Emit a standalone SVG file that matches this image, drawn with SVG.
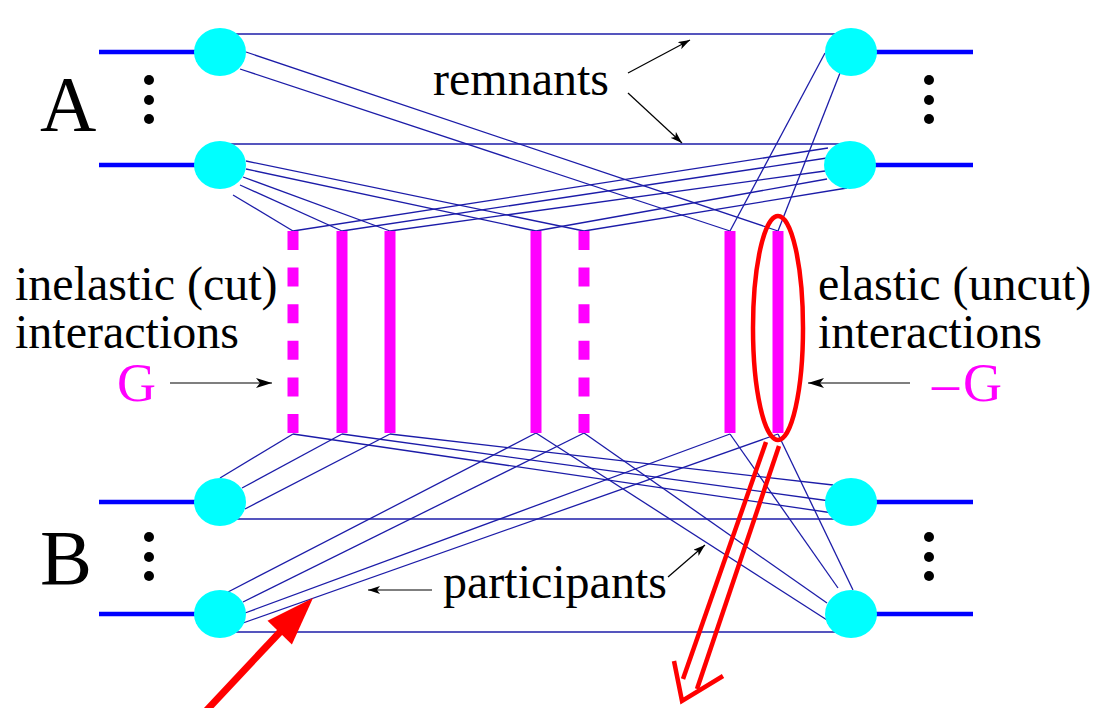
<svg xmlns="http://www.w3.org/2000/svg" width="1101" height="708" viewBox="0 0 1101 708">
  <style>
    .thin { stroke: #1c1ca8; stroke-width: 1.3; fill: none; }
    .thick { stroke: #0000ff; stroke-width: 4.6; fill: none; }
    .node { fill: #00ffff; }
    .bar { fill: #ff00ff; }
    .dot { fill: #000; }
    .lbl { font-family: "Liberation Serif", "Times New Roman", serif; font-size: 48px; fill: #000; }
    .big { font-family: "Liberation Serif", "Times New Roman", serif; font-size: 78px; fill: #000; }
    .mag { fill: #ff00ff; font-size: 54px; }
    .ptr { stroke: #000; stroke-width: 1.2; fill: none; }
    .red { stroke: #ff0000; fill: none; }
  </style>
  <defs>
    <marker id="head" viewBox="0 0 12 8" refX="12" refY="4" markerWidth="12" markerHeight="8" markerUnits="userSpaceOnUse" orient="auto">
      <path d="M0,0 L12,4 L0,8 L3,4 Z" fill="#000"/>
    </marker>
    <marker id="headBig" viewBox="0 0 16 10" refX="16" refY="5" markerWidth="16" markerHeight="10" markerUnits="userSpaceOnUse" orient="auto">
      <path d="M0,0 L16,5 L0,10 L4,5 Z" fill="#000"/>
    </marker>
  </defs>

  <!-- nucleon lines (thick) -->
  <g id="nucleon-lines">
    <line class="thick" x1="99" y1="52" x2="220" y2="52"/>
    <line class="thick" x1="99" y1="165" x2="220" y2="165"/>
    <line class="thick" x1="99" y1="502" x2="220" y2="502"/>
    <line class="thick" x1="99" y1="614" x2="220" y2="614"/>
    <line class="thick" x1="851" y1="52" x2="973" y2="52"/>
    <line class="thick" x1="850" y1="165" x2="973" y2="165"/>
    <line class="thick" x1="851" y1="502" x2="973" y2="502"/>
    <line class="thick" x1="851" y1="614" x2="973" y2="614"/>
  </g>

  <!-- connectors: remnants and parton lines -->
  <g id="connectors">
    <!-- remnants -->
    <line class="thin" x1="230" y1="34" x2="840" y2="34"/>
    <line class="thin" x1="230" y1="144" x2="840" y2="144"/>
    <line class="thin" x1="230" y1="519" x2="840" y2="519"/>
    <line class="thin" x1="230" y1="632" x2="840" y2="632"/>
    <!-- projectile side, upper nucleon -->
    <line class="thin" x1="246" y1="52" x2="778" y2="231"/>
    <line class="thin" x1="240" y1="69" x2="730" y2="231"/>
    <line class="thin" x1="825" y1="53" x2="730" y2="231"/>
    <line class="thin" x1="840" y1="73" x2="778" y2="231"/>
    <!-- projectile side, lower nucleon -->
    <line class="thin" x1="246" y1="161" x2="584" y2="231"/>
    <line class="thin" x1="246" y1="169" x2="536" y2="231"/>
    <line class="thin" x1="243" y1="177" x2="390" y2="231"/>
    <line class="thin" x1="240" y1="185" x2="342" y2="231"/>
    <line class="thin" x1="233" y1="195" x2="293" y2="231"/>
    <line class="thin" x1="828" y1="148" x2="293" y2="231"/>
    <line class="thin" x1="827" y1="158" x2="342" y2="231"/>
    <line class="thin" x1="825" y1="171" x2="390" y2="231"/>
    <line class="thin" x1="827" y1="179" x2="536" y2="231"/>
    <line class="thin" x1="847" y1="188" x2="584" y2="231"/>
    <!-- target side, upper nucleon -->
    <line class="thin" x1="220" y1="478" x2="293" y2="434"/>
    <line class="thin" x1="242" y1="488" x2="342" y2="434"/>
    <line class="thin" x1="245" y1="509" x2="390" y2="434"/>
    <line class="thin" x1="293" y1="434" x2="833" y2="513"/>
    <line class="thin" x1="342" y1="434" x2="830" y2="501"/>
    <line class="thin" x1="390" y1="434" x2="833" y2="485"/>
    <!-- target side, lower nucleon -->
    <line class="thin" x1="228" y1="592" x2="536" y2="433"/>
    <line class="thin" x1="243" y1="602" x2="584" y2="433"/>
    <line class="thin" x1="245" y1="613" x2="730" y2="434"/>
    <line class="thin" x1="243" y1="623" x2="778" y2="434"/>
    <line class="thin" x1="536" y1="433" x2="827" y2="620"/>
    <line class="thin" x1="584" y1="433" x2="827" y2="603"/>
    <line class="thin" x1="730" y1="434" x2="838" y2="588"/>
    <line class="thin" x1="778" y1="434" x2="853" y2="590"/>
  </g>

  <!-- nucleons -->
  <g id="nodeA1"><ellipse class="node" cx="220" cy="52" rx="26" ry="24"/></g>
  <g id="nodeA2"><ellipse class="node" cx="220" cy="165" rx="26" ry="24"/></g>
  <g id="nodeA1r"><ellipse class="node" cx="851" cy="52" rx="26" ry="24"/></g>
  <g id="nodeA2r"><ellipse class="node" cx="850" cy="165" rx="26" ry="24"/></g>
  <g id="nodeB1"><ellipse class="node" cx="220" cy="502" rx="26" ry="24"/></g>
  <g id="nodeB2"><ellipse class="node" cx="220" cy="614" rx="26" ry="24"/></g>
  <g id="nodeB1r"><ellipse class="node" cx="851" cy="502" rx="26" ry="24"/></g>
  <g id="nodeB2r"><ellipse class="node" cx="851" cy="614" rx="26" ry="24"/></g>

  <!-- vertical ellipsis dots -->
  <g id="dots">
    <circle class="dot" cx="149" cy="80" r="5"/>
    <circle class="dot" cx="149" cy="100" r="5"/>
    <circle class="dot" cx="149" cy="119" r="5"/>
    <circle class="dot" cx="929" cy="80" r="5"/>
    <circle class="dot" cx="929" cy="100" r="5"/>
    <circle class="dot" cx="929" cy="119" r="5"/>
    <circle class="dot" cx="149" cy="537" r="5"/>
    <circle class="dot" cx="149" cy="557" r="5"/>
    <circle class="dot" cx="149" cy="576" r="5"/>
    <circle class="dot" cx="929" cy="537" r="5"/>
    <circle class="dot" cx="929" cy="557" r="5"/>
    <circle class="dot" cx="929" cy="576" r="5"/>
  </g>

  <!-- pomerons: dashed = cut, solid = uncut -->
  <g id="pomerons">
    <line x1="293" y1="231" x2="293" y2="433" stroke="#ff00ff" stroke-width="11" stroke-dasharray="19 17.6"/>
    <rect class="bar" x="336.5" y="231" width="11" height="202"/>
    <rect class="bar" x="384.5" y="231" width="11" height="202"/>
    <rect class="bar" x="530.5" y="231" width="11" height="202"/>
    <line x1="584" y1="231" x2="584" y2="433" stroke="#ff00ff" stroke-width="11" stroke-dasharray="19 17.6"/>
    <rect class="bar" x="724.5" y="231" width="11" height="202"/>
    <rect class="bar" x="772.5" y="231" width="11" height="202"/>
  </g>

  <!-- labels -->
  <g id="labels">
    <text class="big" x="40" y="130">A</text>
    <text class="big" x="40" y="584">B</text>
    <text class="lbl" x="433" y="95">remnants</text>
    <text class="lbl" x="443" y="598">participants</text>
    <text class="lbl" x="15" y="300">inelastic (cut)</text>
    <text class="lbl" x="15" y="348">interactions</text>
    <text class="lbl mag" x="117" y="401">G</text>
    <text class="lbl" x="818" y="300">elastic (uncut)</text>
    <text class="lbl" x="818" y="348">interactions</text>
    <text class="lbl mag" x="932" y="401">–<tspan dx="4">G</tspan></text>
  </g>

  <!-- label pointers -->
  <g id="pointers">
    <line class="ptr" x1="628" y1="73" x2="690" y2="40" marker-end="url(#head)"/>
    <line class="ptr" x1="628" y1="93" x2="682" y2="143" marker-end="url(#head)"/>
    <line class="ptr" x1="432" y1="590" x2="368" y2="590" marker-end="url(#head)"/>
    <line class="ptr" x1="668" y1="577" x2="705" y2="545" marker-end="url(#head)"/>
    <line class="ptr" x1="170" y1="383" x2="272" y2="383" stroke-width="1.6" marker-end="url(#headBig)"/>
    <line class="ptr" x1="910" y1="383" x2="808" y2="383" stroke-width="1.6" marker-end="url(#headBig)"/>
  </g>

  <!-- red highlights -->
  <g id="highlight">
    <ellipse class="red" cx="778" cy="328" rx="25" ry="112" stroke-width="4.5"/>
    <line class="red" x1="766" y1="442" x2="683" y2="679" stroke-width="4.5"/>
    <line class="red" x1="779" y1="446" x2="697" y2="689" stroke-width="4.5"/>
    <polyline class="red" points="674,661 682,701 723,676" stroke-width="4.5" stroke-linejoin="miter"/>
    <line class="red" x1="205" y1="712" x2="280" y2="632" stroke-width="7"/>
    <polygon points="313,598 291.9,644.4 267.5,620.8" fill="#ff0000"/>
  </g>
</svg>
